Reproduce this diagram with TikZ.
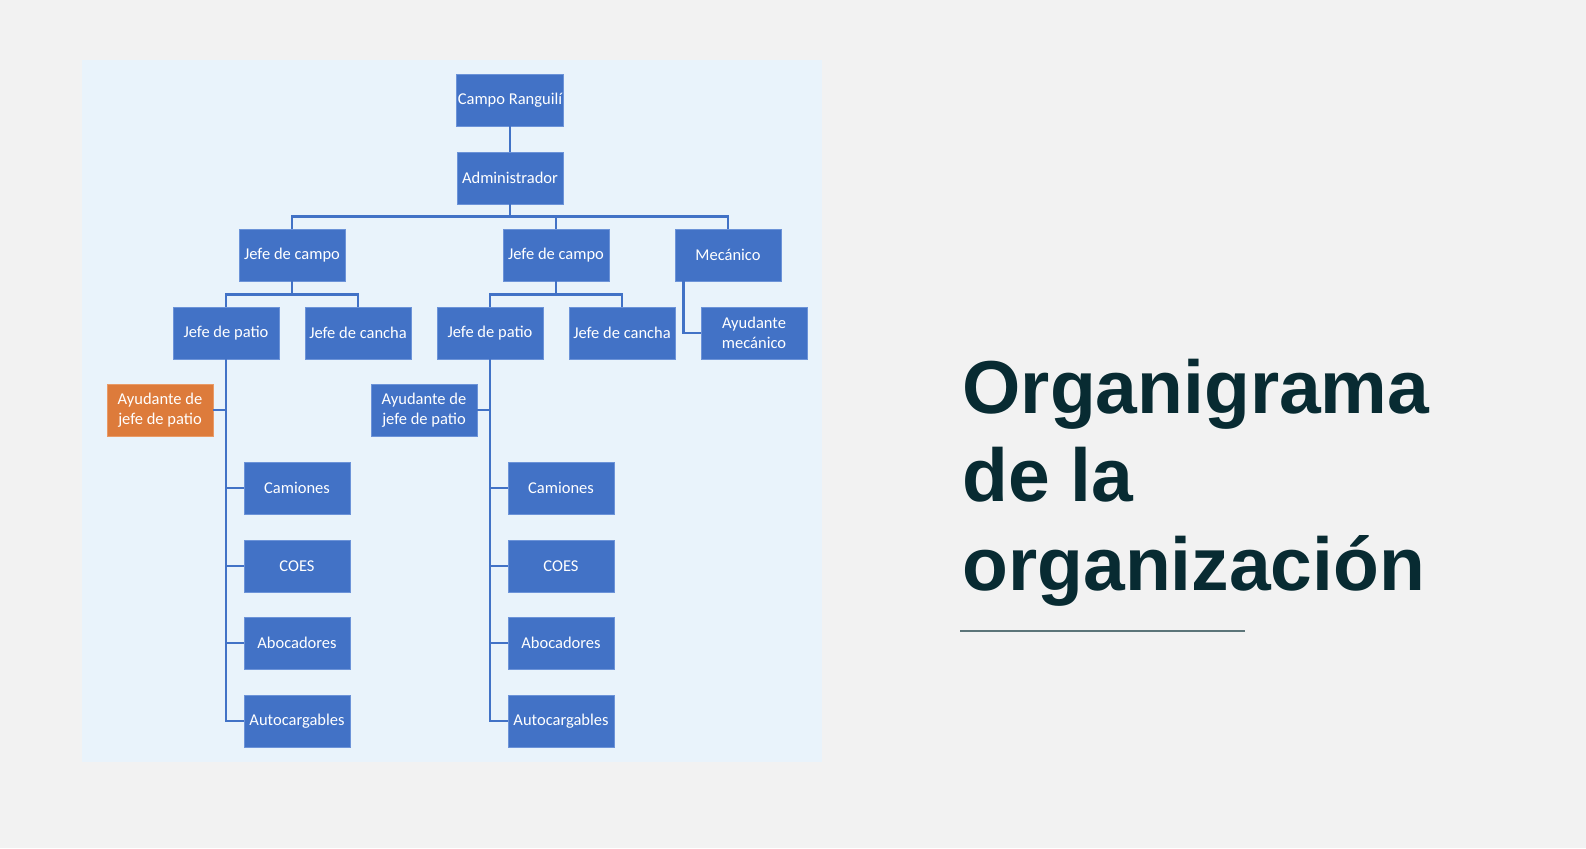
\documentclass[tikz,border=0pt]{standalone}
\usepackage{fontspec}
\setmainfont{Carlito}
\newfontfamily\titlefont{Liberation Sans}
\usetikzlibrary{positioning,calc}
\definecolor{pagegray}{HTML}{F2F2F2}
\definecolor{panelblue}{HTML}{E9F3FB}
\definecolor{boxblue}{HTML}{4272C6}
\definecolor{boxedge}{HTML}{6C93D8}
\definecolor{boxorange}{HTML}{DD7B3B}
\definecolor{orangeedge}{HTML}{E99A66}
\definecolor{titleteal}{HTML}{082B32}
\definecolor{rulegray}{HTML}{5C7579}
\tikzset{
  unit/.style={draw=boxedge, line width=0.8pt, fill=boxblue, text=white,
    minimum width=106pt, minimum height=52pt, inner sep=1pt, align=center,
    font=\fontsize{16.5}{20}\selectfont},
  helper/.style={unit, draw=orangeedge, fill=boxorange},
  link/.style={draw=boxblue, line width=2.6pt}
}

\begin{document}
\begin{tikzpicture}[x=1pt,y=-1pt]
      \fill[pagegray] (0,0) rectangle (1586,848);
      \useasboundingbox (0,0) rectangle (1586,848);
      \fill[panelblue] (82,60) rectangle (822,762);

      \node[unit] (campo) at (510,100) {Campo Ranguilí};
      \node[unit] (admin) at (510,178) {Administrador};

      \node[unit] (jc1) at (292,255) {Jefe de campo};
      \node[unit] (jc2) at (556,255) {Jefe de campo};
      \node[unit] (mec) at (728,255) {Mecánico};

      \node[unit] (jp1) at (226,333) {Jefe de patio};
      \node[unit] (jk1) at (358,333) {Jefe de cancha};
      \node[unit] (jp2) at (490,333) {Jefe de patio};
      \node[unit] (jk2) at (622,333) {Jefe de cancha};
      \node[unit] (aym) at (754,333) {Ayudante\\mecánico};

      \node[helper] (ay1) at (160,410) {Ayudante de\\jefe de patio};
      \node[unit] (ay2) at (424,410) {Ayudante de\\jefe de patio};

      \node[unit] (cam1) at (297,488) {Camiones};
      \node[unit] (coe1) at (297,566) {COES};
      \node[unit] (abo1) at (297,643) {Abocadores};
      \node[unit] (aut1) at (297,721) {Autocargables};

      \node[unit] (cam2) at (561,488) {Camiones};
      \node[unit] (coe2) at (561,566) {COES};
      \node[unit] (abo2) at (561,643) {Abocadores};
      \node[unit] (aut2) at (561,721) {Autocargables};

      \draw[link] (campo) -- (admin);
      \draw[link] (admin.south) -- ++(0,12) coordinate (bus);
      \draw[link] (jc1.north) |- (bus) -| (mec.north);
      \draw[link] (bus -| jc2.north) -- (jc2.north);

      \draw[link] (jc1.south) -- ++(0,13) coordinate (bus1);
      \draw[link] (jp1.north) |- (bus1) -| (jk1.north);
      \draw[link] (jc2.south) -- ++(0,13) coordinate (bus2);
      \draw[link] (jp2.north) |- (bus2) -| (jk2.north);

      \draw[link] ([xshift=9pt]mec.south west) |- (aym.west);

      \draw[link] (jp1.south) |- (aut1.west);
      \draw[link] (ay1.east) -- (ay1.east -| jp1.south);
      \foreach \leaf in {cam1,coe1,abo1}
        \draw[link] (\leaf.west) -- (\leaf.west -| jp1.south);

      \draw[link] (jp2.south) |- (aut2.west);
      \draw[link] (ay2.east) -- (ay2.east -| jp2.south);
      \foreach \leaf in {cam2,coe2,abo2}
        \draw[link] (\leaf.west) -- (\leaf.west -| jp2.south);

      \node[anchor=base west, align=left, text=titleteal,
        font=\titlefont\bfseries\fontsize{75}{88.5}\selectfont] (title) at (959,590)
        {Organigrama\\de la\\organización};
      \draw[rulegray, line width=1.3pt] (960,631) -- (1245,631);
    \end{tikzpicture}
\end{document}
